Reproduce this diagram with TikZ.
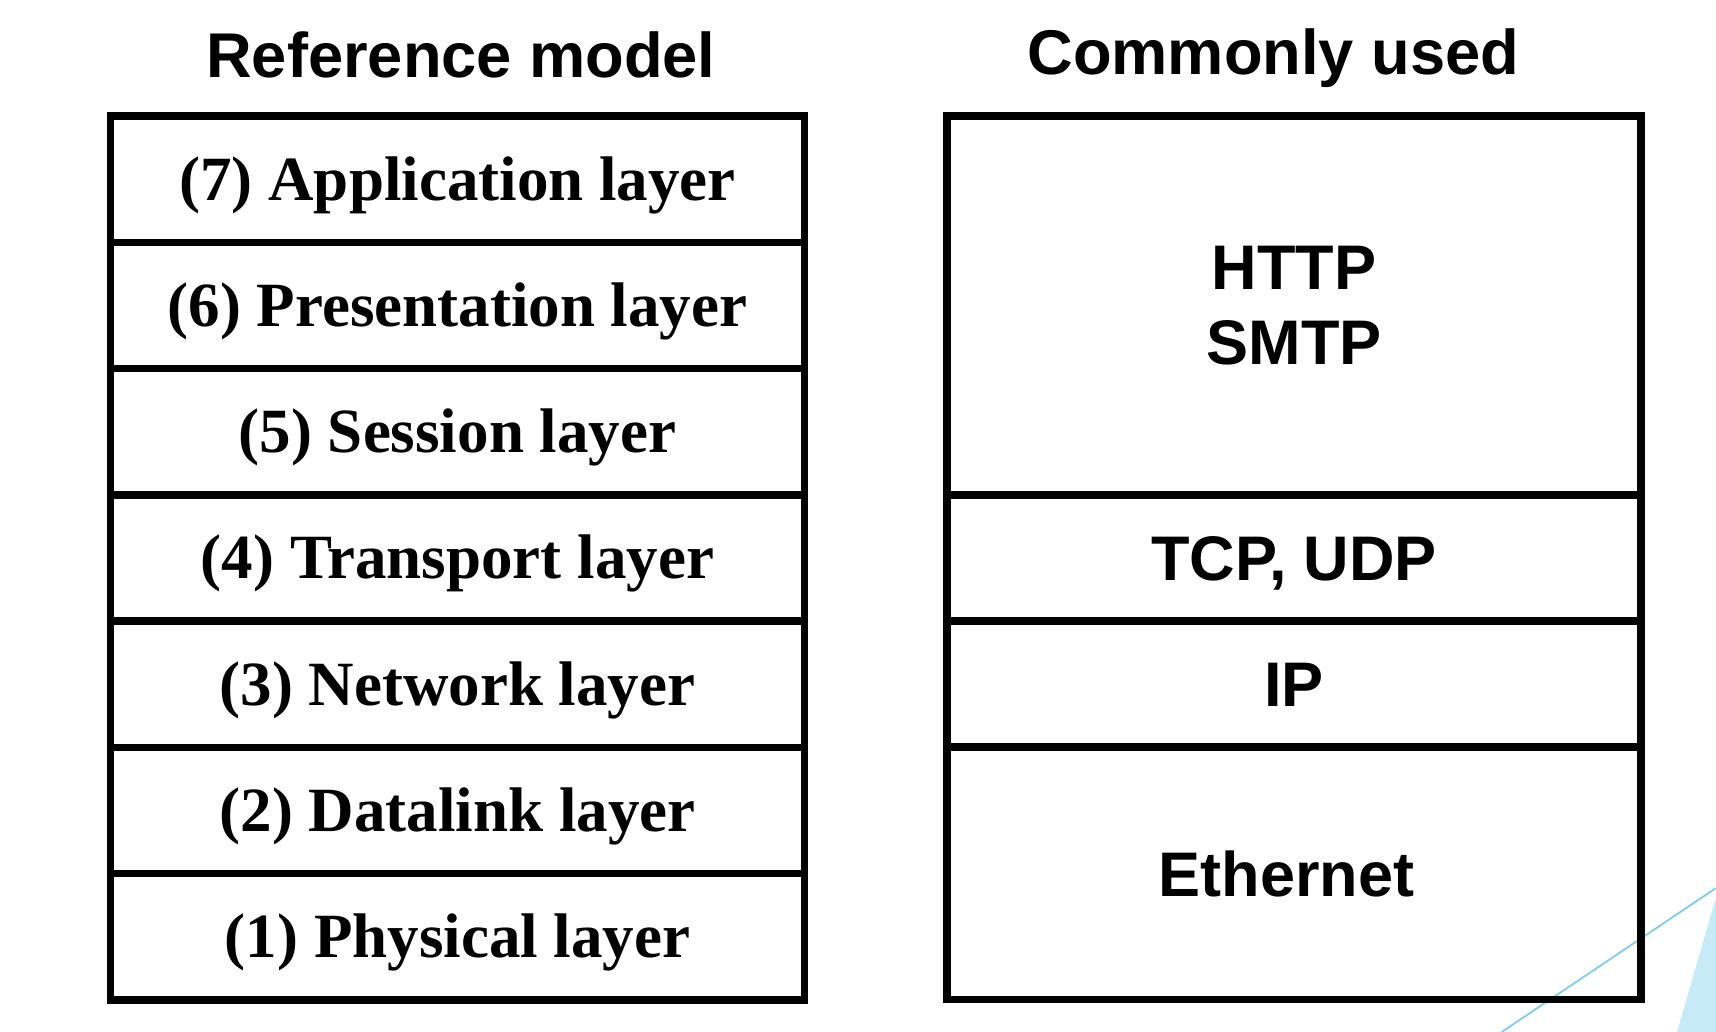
\documentclass[tikz,border=0pt]{standalone}
\usepackage{fontspec}
\setmainfont{Liberation Serif}
\newfontfamily\headfam{Liberation Sans}
\usepackage{tikz}
\usetikzlibrary{shapes}
\definecolor{decoline}{RGB}{125,205,238}
\definecolor{decofill}{RGB}{198,235,247}

\tikzset{
  osilayer/.style={draw,line width=3.75bp,minimum width=347bp,minimum height=63.14bp,inner sep=0pt,
    font=\fontsize{31.5bp}{36bp}\selectfont\bfseries,text height=20.9bp,text depth=0pt},
  usedlayer/.style={draw,line width=3.75bp,minimum width=347bp,inner sep=0pt,align=center,
    font=\headfam\fontsize{31.5bp}{37.5bp}\selectfont\bfseries},
  coltitle/.style={anchor=base,font=\headfam\fontsize{31.6bp}{36bp}\selectfont\bfseries}
}

\begin{document}
\begin{tikzpicture}
\useasboundingbox (0bp,0bp) rectangle (858bp,-516bp);

% corner decoration
\fill [decofill] (838.5bp,-516bp) -- (858bp,-448.5bp) -- (858bp,-516bp) -- cycle;
\draw [decoline,line width=0.9bp] (750.85bp,-516bp) -- (858bp,-444bp);

\node (reftitle) at (230.5bp,-38.5bp)[coltitle] {Reference model};
\node (usedtitle) at (636.6bp,-37bp)[coltitle] {Commonly used};

% reference model
\node (L7) at (228.75bp,-89.57bp)[osilayer] {(7) Application layer};
\node (L6) at (228.75bp,-152.71bp)[osilayer] {(6) Presentation layer};
\node (L5) at (228.75bp,-215.86bp)[osilayer] {(5) Session layer};
\node (L4) at (228.75bp,-279bp)[osilayer] {(4) Transport layer};
\node (L3) at (228.75bp,-342.14bp)[osilayer] {(3) Network layer};
\node (L2) at (228.75bp,-405.29bp)[osilayer] {(2) Datalink layer};
\node (L1) at (228.75bp,-468.43bp)[osilayer] {(1) Physical layer};

% commonly used
\node (Rapp) at (647bp,-152.71bp)[usedlayer,minimum height=189.42bp] {HTTP\\SMTP};
\node (Rtcp) at (647bp,-279bp)[usedlayer,minimum height=63.14bp,text height=22.6bp,text depth=0pt] {TCP, UDP};
\node (Rip) at (647bp,-342.14bp)[usedlayer,minimum height=63.14bp,text height=22.6bp,text depth=0pt] {IP};
\node (Reth) at (647bp,-436.71bp)[usedlayer,minimum height=126.28bp,text height=22.6bp,text depth=0pt] {\hspace*{-7.6bp}Ethernet};
\end{tikzpicture}
\end{document}
